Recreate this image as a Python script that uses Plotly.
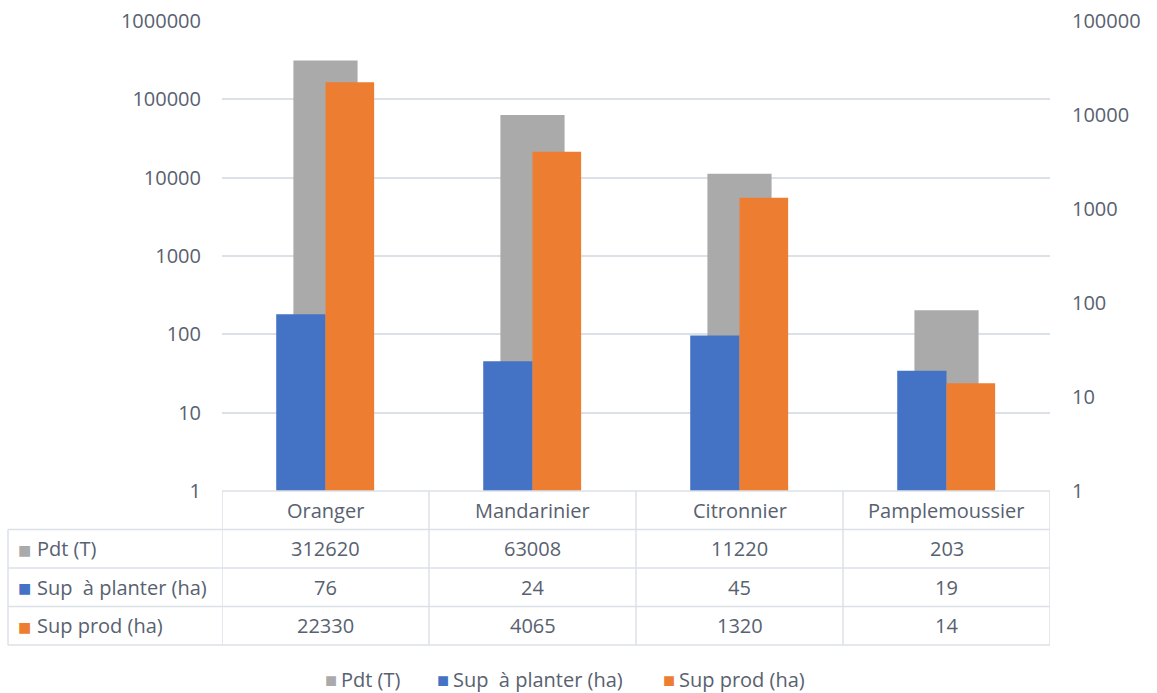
import plotly.graph_objects as go

categories = ["Oranger", "Mandarinier", "Citronnier", "Pamplemoussier"]
series_names = ["Pdt (T)", "Sup \u00a0à planter (ha)", "Sup prod (ha)"]
pdt = [312620, 63008, 11220, 203]
sup_planter = [76, 24, 45, 19]
sup_prod = [22330, 4065, 1320, 14]
left_ticks = [1, 10, 100, 1000, 10000, 100000, 1000000]
right_ticks = [1, 10, 100, 1000, 10000, 100000]

GRAY = "#aaaaaa"
BLUE = "#4472c4"
ORANGE = "#ed7d31"
TXT = "#586170"
GRID = "#dce0e7"
FONT = "Open Sans"
FS = 20

W, H = 1157, 693
x0, x1 = 222 / W, 1050 / W
ytop, ybot = 1 - 21 / H, 1 - 491 / H
py = lambda p: 1 - p / H  # pixel row -> paper y
px = lambda p: p / W      # pixel col -> paper x

fig = go.Figure()
fig.add_trace(go.Bar(x=categories, y=pdt, name=series_names[0], marker_color=GRAY,
                     marker_line_width=0, width=0.31, offset=-0.155, yaxis="y", xaxis="x"))
fig.add_trace(go.Bar(x=categories, y=sup_planter, name=series_names[1], marker_color=BLUE,
                     marker_line_width=0, width=0.238, offset=-0.238, yaxis="y2", xaxis="x"))
fig.add_trace(go.Bar(x=categories, y=sup_prod, name=series_names[2], marker_color=ORANGE,
                     marker_line_width=0, width=0.235, offset=0.0, yaxis="y2", xaxis="x"))

# ---- data table (lines + text) ----
row_edges = [491, 529.5, 568, 606.5, 645]
shapes = []
line = dict(color=GRID, width=1.5)
shapes.append(dict(type="line", xref="x", yref="paper", x0=-0.5, x1=len(categories) - 0.5,
                   y0=py(row_edges[0]), y1=py(row_edges[0]), line=line, layer="above"))
for r in row_edges[1:]:
    shapes.append(dict(type="line", xref="paper", yref="paper", x0=px(8), x1=x1,
                       y0=py(r), y1=py(r), line=line))
for i in range(len(categories) + 1):
    shapes.append(dict(type="line", xref="x", yref="paper", x0=i - 0.5, x1=i - 0.5,
                       y0=py(row_edges[0]), y1=py(row_edges[-1]), line=line))
shapes.append(dict(type="line", xref="paper", yref="paper", x0=px(8), x1=px(8),
                   y0=py(row_edges[1]), y1=py(row_edges[-1]), line=line))

annotations = []


def key(xc, yc, color, size=22):
    annotations.append(dict(x=px(xc), xref="paper", y=py(yc), yref="paper", text="■",
                            font=dict(size=size, color=color), showarrow=False,
                            xanchor="center", yanchor="middle"))


def label(xl, yc, text):
    annotations.append(dict(x=px(xl), xref="paper", y=py(yc), yref="paper", text=text,
                            showarrow=False, xanchor="left", yanchor="middle"))


centers = [(row_edges[k] + row_edges[k + 1]) / 2 for k in range(len(row_edges) - 1)]
for i, c in enumerate(categories):
    annotations.append(dict(x=c, xref="x", y=py(centers[0]), yref="paper", text=c,
                            showarrow=False, xanchor="center", yanchor="middle"))
series_vals = [pdt, sup_planter, sup_prod]
series_cols = [GRAY, BLUE, ORANGE]
for k, (name, vals, col) in enumerate(zip(series_names, series_vals, series_cols)):
    yk = centers[k + 1]
    key(24, yk, col)
    label(35, yk, name)
    for i, c in enumerate(categories):
        annotations.append(dict(x=c, xref="x", y=py(yk), yref="paper", text=str(vals[i]),
                                showarrow=False, xanchor="center", yanchor="middle"))

# legend row
legend_key_x = [331, 443, 669]
for name, col, kx in zip(series_names, series_cols, legend_key_x):
    key(kx, 679, col, size=20)
    label(kx + 8, 679, name)

fig.update_layout(
    width=W, height=H,
    margin=dict(l=0, r=0, t=0, b=0, autoexpand=False),
    paper_bgcolor="white", plot_bgcolor="white",
    font=dict(family=FONT, size=FS, color=TXT),
    barmode="overlay",
    showlegend=False,
    xaxis=dict(domain=[x0, x1], range=[-0.5, 3.5], showticklabels=False, showgrid=False,
               zeroline=False, showline=False, anchor="y", categoryorder="array",
               categoryarray=categories),
    yaxis=dict(type="log", range=[0, 6], domain=[ybot, ytop], tickvals=left_ticks,
               ticktext=[str(v) for v in left_ticks], showgrid=True, gridcolor=GRID,
               gridwidth=1.5, zeroline=False, showline=False, ticks="",
               ticklabelstandoff=20, tickfont=dict(size=FS, color=TXT)),
    yaxis2=dict(type="log", range=[0, 5], overlaying="y", side="right", anchor="x",
                tickvals=right_ticks, ticktext=[str(v) for v in right_ticks],
                showgrid=False, zeroline=False, showline=False, ticks="",
                ticklabelstandoff=21, tickfont=dict(size=FS, color=TXT)),
    shapes=shapes,
    annotations=annotations,
)

fig.write_html("out.html")
